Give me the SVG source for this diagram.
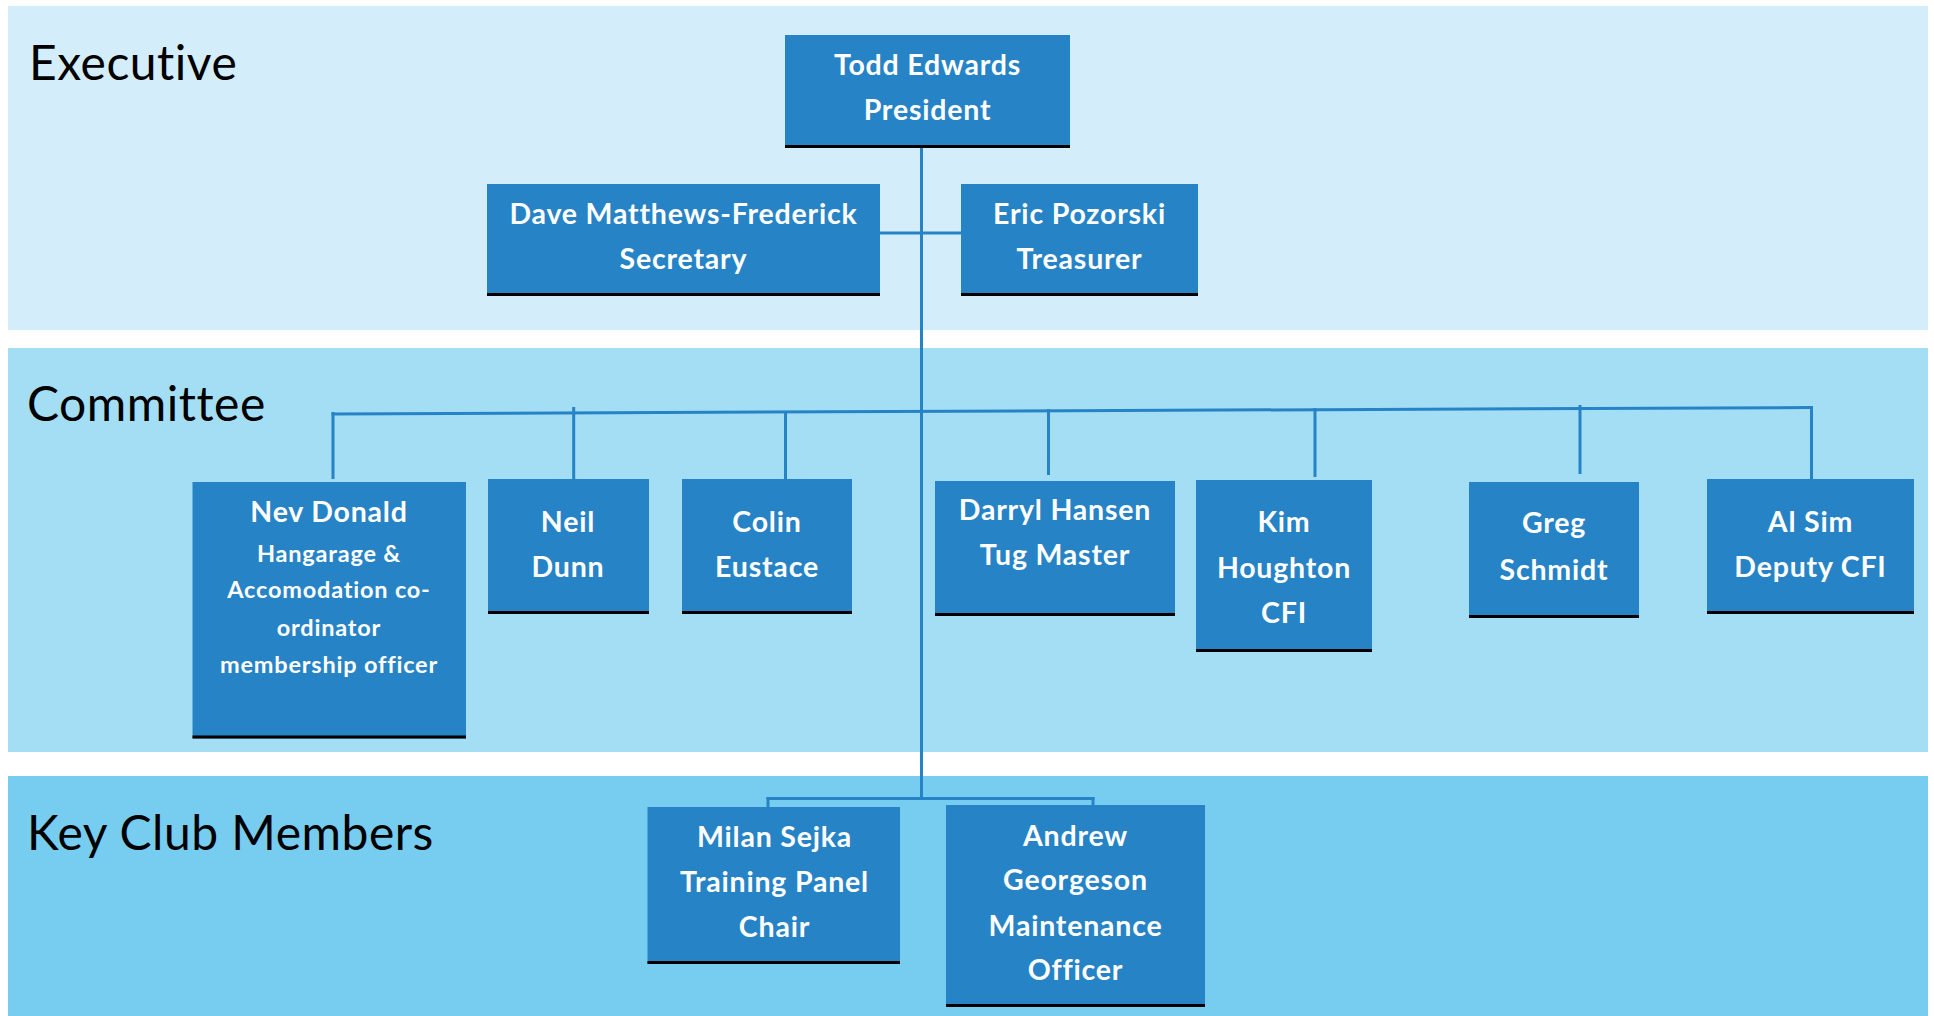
<svg xmlns="http://www.w3.org/2000/svg" width="1934" height="1016" viewBox="0 0 1934 1016">
<style>
.band1{fill:#D3EEFA}
.band2{fill:#A4DEF4}
.band3{fill:#77CDEF}
.hdr{font-family:Lato,"Open Sans",sans-serif;font-size:48px;letter-spacing:0.5px;fill:#000}
.box{fill:#2683C6}
.base{stroke:#000;stroke-width:3}
.t{font-family:Lato,"Open Sans",sans-serif;font-weight:bold;font-size:28.5px;letter-spacing:0.8px;fill:#fff;text-anchor:middle}
.s{font-size:23.5px;letter-spacing:0.8px}
.c{stroke:#2683C6;fill:none;stroke-width:3}
</style>
<rect width="1934" height="1016" fill="#fff"/>
<rect class="band1" x="8" y="6" width="1920" height="324"/>
<rect class="band2" x="8" y="348" width="1920" height="404"/>
<rect class="band3" x="8" y="776" width="1920" height="240"/>
<text class="hdr" x="29" y="80">Executive</text>
<text class="hdr" x="27" y="421">Committee</text>
<text class="hdr" x="27" y="850">Key Club Members</text>
<g id="connectors">
<line class="c" x1="921.5" y1="147" x2="921.5" y2="798" stroke-width="3.3"/>
<line class="c" x1="880" y1="233" x2="961" y2="233" stroke-width="4"/>
<line class="c" x1="331.5" y1="414" x2="1813" y2="407.5" stroke-width="4"/>
<line class="c" x1="333" y1="412" x2="333" y2="479"/>
<line class="c" x1="573.7" y1="407" x2="573.7" y2="479"/>
<line class="c" x1="785.5" y1="413" x2="785.5" y2="479"/>
<line class="c" x1="1048.5" y1="409" x2="1048.5" y2="475"/>
<line class="c" x1="1315" y1="408" x2="1315" y2="477"/>
<line class="c" x1="1580" y1="405" x2="1580" y2="474"/>
<line class="c" x1="1811.5" y1="407" x2="1811.5" y2="479"/>
<line class="c" x1="766.5" y1="798.5" x2="1094.5" y2="798.5" stroke-width="3.5"/>
<line class="c" x1="768" y1="797" x2="768" y2="807"/>
<line class="c" x1="1093" y1="797" x2="1093" y2="805"/>
</g>
<g id="todd">
<rect class="box" x="785" y="35" width="285" height="113"/>
<line class="base" x1="785" y1="146.5" x2="1070" y2="146.5"/>
<text class="t" x="927.5" y="75">Todd Edwards</text>
<text class="t" x="927.5" y="120">President</text>
</g>
<g id="dave">
<rect class="box" x="487" y="184" width="393" height="112"/>
<line class="base" x1="487" y1="294.5" x2="880" y2="294.5"/>
<text class="t" x="683.5" y="224">Dave Matthews-Frederick</text>
<text class="t" x="683.5" y="269">Secretary</text>
</g>
<g id="eric">
<rect class="box" x="961" y="184" width="237" height="112"/>
<line class="base" x1="961" y1="294.5" x2="1198" y2="294.5"/>
<text class="t" x="1079.5" y="224">Eric Pozorski</text>
<text class="t" x="1079.5" y="269">Treasurer</text>
</g>
<g id="nev">
<rect class="box" x="192.5" y="482" width="273.5" height="256.5"/>
<line class="base" x1="192.5" y1="737" x2="466" y2="737"/>
<text class="t" x="329" y="521.5">Nev Donald</text>
<text class="t s" x="329" y="561.5">Hangarage &amp;</text>
<text class="t s" x="329" y="598">Accomodation co-</text>
<text class="t s" x="329" y="635.5">ordinator</text>
<text class="t s" x="329" y="672.5">membership officer</text>
</g>
<g id="neil">
<rect class="box" x="488" y="479" width="161" height="135"/>
<line class="base" x1="488" y1="612.5" x2="649" y2="612.5"/>
<text class="t" x="568" y="531.5">Neil</text>
<text class="t" x="568" y="576.5">Dunn</text>
</g>
<g id="colin">
<rect class="box" x="682" y="479" width="170" height="135"/>
<line class="base" x1="682" y1="612.5" x2="852" y2="612.5"/>
<text class="t" x="767" y="531.5">Colin</text>
<text class="t" x="767" y="576.5">Eustace</text>
</g>
<g id="darryl">
<rect class="box" x="935" y="481" width="240" height="135"/>
<line class="base" x1="935" y1="614.5" x2="1175" y2="614.5"/>
<text class="t" x="1055" y="520">Darryl Hansen</text>
<text class="t" x="1055" y="565">Tug Master</text>
</g>
<g id="kim">
<rect class="box" x="1196" y="480" width="176" height="172"/>
<line class="base" x1="1196" y1="650.5" x2="1372" y2="650.5"/>
<text class="t" x="1284" y="532">Kim</text>
<text class="t" x="1284" y="578">Houghton</text>
<text class="t" x="1284" y="623">CFI</text>
</g>
<g id="greg">
<rect class="box" x="1469" y="482" width="170" height="136"/>
<line class="base" x1="1469" y1="616.5" x2="1639" y2="616.5"/>
<text class="t" x="1554" y="533">Greg</text>
<text class="t" x="1554" y="579.5">Schmidt</text>
</g>
<g id="alsim">
<rect class="box" x="1707" y="479" width="207" height="135"/>
<line class="base" x1="1707" y1="612.5" x2="1914" y2="612.5"/>
<text class="t" x="1810.5" y="531.5">Al Sim</text>
<text class="t" x="1810.5" y="577">Deputy CFI</text>
</g>
<g id="milan">
<rect class="box" x="647.5" y="807" width="252.5" height="157"/>
<line class="base" x1="647.5" y1="962.5" x2="900" y2="962.5"/>
<text class="t" x="774.5" y="847">Milan Sejka</text>
<text class="t" x="774.5" y="891.5">Training Panel</text>
<text class="t" x="774.5" y="936.5">Chair</text>
</g>
<g id="andrew">
<rect class="box" x="946" y="805" width="259" height="202"/>
<line class="base" x1="946" y1="1005.5" x2="1205" y2="1005.5"/>
<text class="t" x="1075.5" y="846">Andrew</text>
<text class="t" x="1075.5" y="890">Georgeson</text>
<text class="t" x="1075.5" y="935.5">Maintenance</text>
<text class="t" x="1075.5" y="980">Officer</text>
</g>
</svg>
